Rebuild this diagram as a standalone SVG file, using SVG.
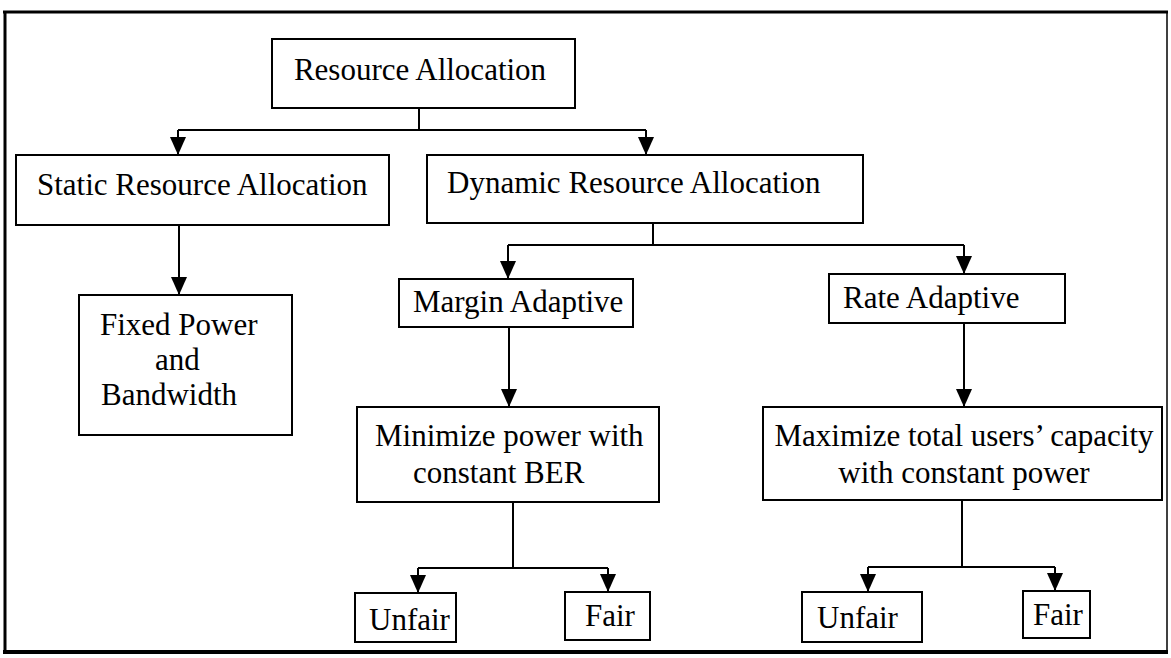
<svg xmlns="http://www.w3.org/2000/svg" width="1171" height="658" viewBox="0 0 1171 658">
<style>
.box{fill:#fff;stroke:#000;stroke-width:2}
.lbl{font-family:"Liberation Serif","Times New Roman",serif;font-size:31px;fill:#000}
.c{text-anchor:middle}
.ln{fill:none;stroke:#000;stroke-width:2}
</style>
<defs>
<marker id="ah" viewBox="0 0 18 16" refX="18" refY="8" markerWidth="18" markerHeight="16" orient="auto" markerUnits="userSpaceOnUse">
<path d="M0,0 L18,8 L0,16 Z" fill="#000"/>
</marker>
</defs>
<rect width="1171" height="658" fill="#fff"/>
<g id="frame" fill="none" stroke="#000">
<line x1="3" y1="12" x2="1168" y2="12" stroke-width="3"/>
<line x1="5" y1="11" x2="5" y2="654" stroke-width="3"/>
<line x1="1167" y1="11" x2="1167" y2="654" stroke-width="1.5"/>
<line x1="3" y1="652" x2="1168" y2="652" stroke-width="4"/>
</g>
<g id="connectors" class="ln">
<path d="M419,108 V130"/>
<path d="M178,130 H646"/>
<path d="M178,130 V155" marker-end="url(#ah)"/>
<path d="M646,130 V155" marker-end="url(#ah)"/>
<path d="M179,225 V295" marker-end="url(#ah)"/>
<path d="M653,223 V245"/>
<path d="M508,245 H964"/>
<path d="M508,245 V279" marker-end="url(#ah)"/>
<path d="M964,245 V274" marker-end="url(#ah)"/>
<path d="M509,327 V407" marker-end="url(#ah)"/>
<path d="M964,323 V407" marker-end="url(#ah)"/>
<path d="M513,502 V568"/>
<path d="M418,568 H608"/>
<path d="M418,568 V593" marker-end="url(#ah)"/>
<path d="M608,568 V592" marker-end="url(#ah)"/>
<path d="M962,500 V567"/>
<path d="M868,567 H1055"/>
<path d="M868,567 V592" marker-end="url(#ah)"/>
<path d="M1055,567 V591" marker-end="url(#ah)"/>
</g>
<g id="resource-allocation">
<rect class="box" x="272" y="39" width="303" height="69"/>
<text class="lbl c" x="420" y="80">Resource Allocation</text>
</g>
<g id="static">
<rect class="box" x="16" y="155" width="373" height="70"/>
<text class="lbl" x="37" y="195">Static Resource Allocation</text>
</g>
<g id="dynamic">
<rect class="box" x="427" y="155" width="436" height="68"/>
<text class="lbl" x="447" y="193">Dynamic Resource Allocation</text>
</g>
<g id="fixed">
<rect class="box" x="79" y="295" width="213" height="140"/>
<text class="lbl" x="100" y="335">Fixed Power</text>
<text class="lbl" x="155" y="370">and</text>
<text class="lbl" x="101" y="405">Bandwidth</text>
</g>
<g id="margin">
<rect class="box" x="399" y="279" width="234" height="48"/>
<text class="lbl" x="413" y="312">Margin Adaptive</text>
</g>
<g id="rate">
<rect class="box" x="829" y="274" width="236" height="49"/>
<text class="lbl" x="843" y="308">Rate Adaptive</text>
</g>
<g id="minimize">
<rect class="box" x="357" y="407" width="302" height="95"/>
<text class="lbl" x="375" y="446">Minimize power with</text>
<text class="lbl" x="413" y="483">constant BER</text>
</g>
<g id="maximize">
<rect class="box" x="763" y="407" width="399" height="93"/>
<text class="lbl c" x="964" y="446">Maximize total users’ capacity</text>
<text class="lbl c" x="964" y="483">with constant power</text>
</g>
<g id="unfair1">
<rect class="box" x="355" y="593" width="101" height="49"/>
<text class="lbl" x="369" y="630">Unfair</text>
</g>
<g id="fair1">
<rect class="box" x="565" y="592" width="85" height="48"/>
<text class="lbl" x="585" y="626">Fair</text>
</g>
<g id="unfair2">
<rect class="box" x="802" y="592" width="120" height="50"/>
<text class="lbl" x="817" y="628">Unfair</text>
</g>
<g id="fair2">
<rect class="box" x="1023" y="591" width="67" height="47"/>
<text class="lbl" x="1033" y="625">Fair</text>
</g>
</svg>
